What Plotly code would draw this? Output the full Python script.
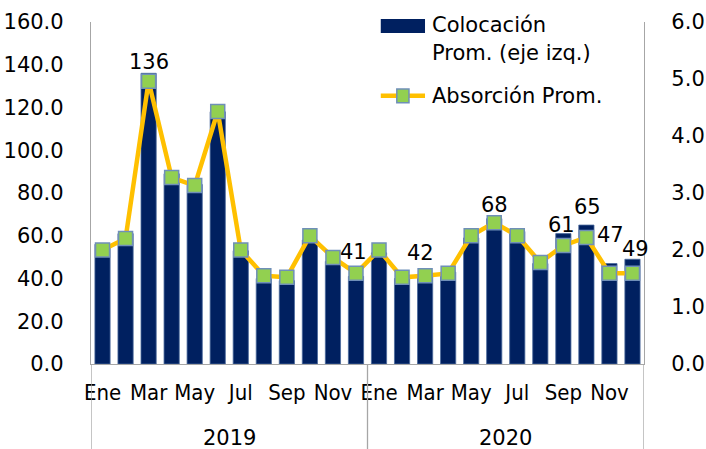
import plotly.graph_objects as go

years = ["2019", "2020"]
months = ["Ene", "Feb", "Mar", "Abr", "May", "Jun", "Jul", "Ago", "Sep", "Oct", "Nov", "Dic"]
colocacion = [56, 61, 136, 89, 84, 118, 53, 40, 39, 58, 48, 41,
              52, 40, 42, 43, 59, 68, 62, 47, 61, 65, 47, 49]
absorcion = [2.0, 2.2, 4.96, 3.27, 3.13, 4.43, 2.0, 1.55, 1.52, 2.25, 1.87, 1.59,
             2.0, 1.52, 1.55, 1.59, 2.25, 2.48, 2.25, 1.78, 2.08, 2.22, 1.59, 1.59]
# bar data labels shown in the reference (index -> text)
labels = {2: "136", 11: "41", 14: "42", 17: "68", 20: "61", 21: "65", 22: "47", 23: "49"}
left_ticks = [0, 20, 40, 60, 80, 100, 120, 140, 160]
right_ticks = [0, 1, 2, 3, 4, 5, 6]

NAVY = "#002060"
GOLD = "#FFC000"
GREEN = "#92D050"
FONT = "DejaVu Sans"
TXT = "#000000"

# placement of data labels above bar tops (pixels), as in the reference
label_shift = {2: (0, 11), 11: (-2, 24), 14: (-5, 21), 17: (0, 14),
               20: (-2, 9), 21: (1, 18), 22: (1, 29), 23: (3, 10)}

n = len(colocacion)
xs = list(range(n))
month_labels = [months[i % 12] for i in xs]

fig = go.Figure()
fig.add_trace(go.Bar(
    x=xs, y=colocacion, name="Colocación Prom. (eje izq.)",
    marker=dict(color=NAVY, line=dict(color="#4a6a9c", width=0.8)),
    width=0.66, yaxis="y", showlegend=False,
    hovertext=[f"{m} {years[i // 12]}" for i, m in enumerate(month_labels)],
))
fig.add_trace(go.Scatter(
    x=xs, y=absorcion, name="Absorción Prom.", mode="lines+markers",
    line=dict(color=GOLD, width=4.5),
    marker=dict(symbol="square", size=14, color=GREEN, line=dict(color="#6f8fb8", width=1.5)),
    yaxis="y2", showlegend=False,
))

annotations = []
for i, t in labels.items():
    dx, dy = label_shift[i]
    annotations.append(dict(x=i, y=colocacion[i], xref="x", yref="y", text=t,
                            showarrow=False, yanchor="middle", yshift=dy, xshift=dx,
                            font=dict(family=FONT, size=21, color=TXT)))

# year labels under the month labels
for k, yr in enumerate(years):
    annotations.append(dict(x=k * 12 + 5.5, y=-0.215, xref="x", yref="paper", text=yr,
                            showarrow=False, yanchor="middle",
                            font=dict(family=FONT, size=21, color=TXT)))

# custom legend
annotations += [
    dict(x=0.613, y=0.991, xref="paper", yref="paper", text="Colocación", showarrow=False,
         xanchor="left", yanchor="middle", font=dict(family=FONT, size=21, color=TXT)),
    dict(x=0.613, y=0.909, xref="paper", yref="paper", text="Prom. (eje izq.)", showarrow=False,
         xanchor="left", yanchor="middle", font=dict(family=FONT, size=21, color=TXT)),
    dict(x=0.613, y=0.784, xref="paper", yref="paper", text="Absorción Prom.", showarrow=False,
         xanchor="left", yanchor="middle", font=dict(family=FONT, size=21, color=TXT)),
]

shapes = [
    # legend swatches
    dict(type="rect", xref="paper", yref="paper", x0=0.524, x1=0.604, y0=0.968, y1=1.009,
         fillcolor=NAVY, line=dict(width=0)),
    dict(type="line", xref="paper", yref="paper", x0=0.524, x1=0.604, y0=0.784, y1=0.784,
         line=dict(color=GOLD, width=4.5)),
    dict(type="rect", xref="paper", yref="paper", x0=0.553, x1=0.575, y0=0.764, y1=0.804,
         fillcolor=GREEN, line=dict(color="#6f8fb8", width=1.5)),
]
# year divider lines extending below the axis
for xv in [-0.5, 11.5, 23.5]:
    shapes.append(dict(type="line", xref="x", yref="paper", x0=xv, x1=xv, y0=0, y1=-0.26,
                       line=dict(color="#a6a6a6", width=1.3)))

fig.update_layout(
    width=706, height=449,
    margin=dict(l=91, r=62, t=22, b=85, autoexpand=False),
    paper_bgcolor="white", plot_bgcolor="white",
    bargap=0.34,
    font=dict(family=FONT, size=21, color=TXT),
    xaxis=dict(
        range=[-0.5, 23.5], automargin=False,
        tickmode="array", tickvals=xs[::2], ticktext=month_labels[::2],
        tickfont=dict(family="Liberation Sans Narrow, DejaVu Sans Condensed, DejaVu Sans", size=22, color=TXT),
        showline=True, linecolor="#a6a6a6", linewidth=1.3,
        showgrid=False, zeroline=False, ticks="", ticklabelstandoff=8,
    ),
    yaxis=dict(
        range=[0, 160], tickmode="array", tickvals=left_ticks, automargin=False,
        tickformat=".1f", showgrid=False, zeroline=False,
        showline=True, linecolor="#a6a6a6", linewidth=1.3,
        ticks="", ticklabelstandoff=22,
        tickfont=dict(family=FONT, size=21, color=TXT),
    ),
    yaxis2=dict(
        range=[0, 6], tickmode="array", tickvals=right_ticks, automargin=False,
        tickformat=".1f", overlaying="y", side="right", showgrid=False, zeroline=False,
        showline=True, linecolor="#a6a6a6", linewidth=1.3,
        ticks="", ticklabelstandoff=22,
        tickfont=dict(family=FONT, size=21, color=TXT),
    ),
    annotations=annotations,
    shapes=shapes,
    showlegend=False,
)

fig.write_html("out.html", config={"displayModeBar": False},
               post_script="document.body.style.margin='0';")
